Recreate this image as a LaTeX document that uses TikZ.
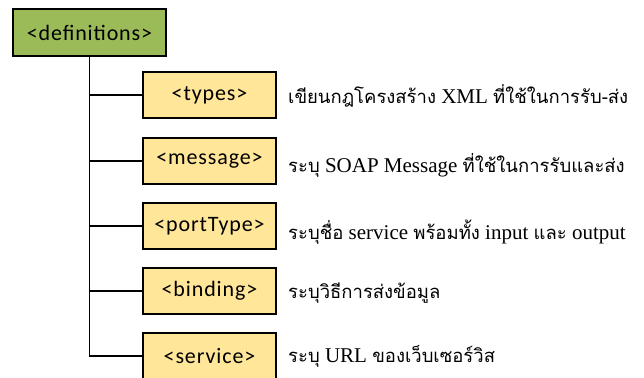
\documentclass[tikz,border=0pt]{standalone}
\usepackage{fontspec}
\setmainfont{Liberation Serif}
\newfontfamily\thaifont[Script=Thai,Scale=0.88]{Loma}
\newfontfamily\tagfont[LetterSpace=4]{Carlito}
\newcommand\thai[1]{{\thaifont #1}}
\definecolor{defgreen}{HTML}{9BBB59}
\definecolor{tagyellow}{HTML}{FFE699}
\tikzset{
  tagbox/.style={draw, line width=1.2pt, fill=tagyellow, minimum width=133pt,
    minimum height=46pt, inner sep=0pt, font=\tagfont\fontsize{22}{22}\selectfont},
  desc/.style={anchor=west, inner sep=0pt, font=\fontsize{21}{21}\selectfont},
  branch/.style={line width=1.5pt}
}
\begin{document}
\begin{tikzpicture}[x=1pt,y=-1pt]
\useasboundingbox (0,0) rectangle (644,377);
\node[tagbox, fill=defgreen, minimum width=153pt, minimum height=47pt] (def) at (89.5,32.5) {<definitions>};
% child elements of the definitions tag
\foreach \name/\tag/\y/\dy/\txt in {
    types/<types>/95/1/{\thai{เขียนกฎโครงสร้าง} XML \thai{ที่ใช้ในการรับ-ส่ง}},
    message/<message>/161/4/{\thai{ระบุ} SOAP Message \thai{ที่ใช้ในการรับและส่ง}},
    porttype/<portType>/226/6/{\thai{ระบุชื่อ} service \thai{พร้อมทั้ง} input \thai{และ} output},
    binding/<binding>/291/2/{\thai{ระบุวิธีการส่งข้อมูล}},
    service/<service>/356/0/{\thai{ระบุ} URL \thai{ของเว็บเซอร์วิส}}}
{
    \draw[branch] (def.south) |- (209.5,\y);
    \node[tagbox] (\name) at (209.5,\y) {\tag};
    \node[desc] (\name-txt) at (288,\y+\dy) {\txt};
}
\end{tikzpicture}
\end{document}
